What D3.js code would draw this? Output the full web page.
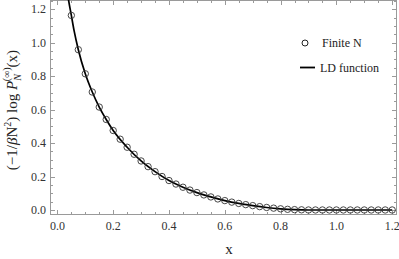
<!DOCTYPE html>
<html><head><meta charset="utf-8">
<script src="https://cdn.jsdelivr.net/npm/d3@7"></script>
<style>body{margin:0;background:#fff}svg{display:block}</style>
</head><body><svg id="c" width="399" height="259" font-family="'Liberation Serif','DejaVu Serif',serif"></svg>
<script>
// Finite N data points
const pointX = [0.05,0.075,0.1,0.125,0.15,0.175,0.2,0.225,0.25,0.275,0.3,0.325,0.35,0.375,0.4,0.425,0.45,0.475,0.5,0.525,0.55,0.575,0.6,0.625,0.65,0.675,0.7,0.725,0.75,0.775,0.8,0.825,0.85,0.875,0.9,0.925,0.95,0.975,1.0,1.025,1.05,1.075,1.1,1.125,1.15,1.175,1.2];
const pointY = [1.163,0.958,0.814,0.705,0.615,0.541,0.475,0.423,0.375,0.333,0.293,0.259,0.229,0.2,0.176,0.155,0.136,0.119,0.104,0.09,0.078,0.066,0.056,0.047,0.039,0.032,0.026,0.02,0.015,0.011,0.007,0.004,0.002,0.001,0,0,0,0,0,0,0,0,0,0,0,0,0];
// LD function curve samples
const lineX = [0.033,0.04,0.05,0.06,0.075,0.1,0.125,0.15,0.175,0.2,0.25,0.3,0.35,0.4,0.45,0.5,0.55,0.6,0.65,0.7,0.75,0.8,0.85,0.9,0.95,1.0,1.1,1.2];
const lineY = [1.33,1.255,1.163,1.07,0.958,0.814,0.705,0.615,0.541,0.475,0.375,0.293,0.229,0.176,0.136,0.104,0.078,0.056,0.039,0.026,0.015,0.007,0.002,0,0,0,0,0];
const xTicks = [0,0.2,0.4,0.6,0.8,1.0,1.2];
const yTicks = [0,0.2,0.4,0.6,0.8,1.0,1.2];
const legendLabels = ["Finite N","LD function"];

const svg = d3.select("#c");
const L=50,R=397,T=0,B=215;
const x = d3.scaleLinear().domain([-0.0265,1.2172]).range([L,R]);
const y = d3.scaleLinear().domain([-0.03,1.255]).range([B,T]);
const frameCol="#9a9a9a";

svg.append("defs").append("clipPath").attr("id","clip").append("rect").attr("x",L).attr("y",T).attr("width",R-L).attr("height",B-T);

svg.append("rect").attr("x",L+0.5).attr("y",T+0.5).attr("width",R-L-1).attr("height",B-T-1).attr("fill","none").attr("stroke",frameCol).attr("stroke-width",1);

const minorX = d3.range(0,1.2001,0.05), minorY = d3.range(0,1.2501,0.05);
const isMajor = v => Math.abs(v*5-Math.round(v*5))<1e-6;
const tg = svg.append("g").attr("stroke",frameCol).attr("stroke-width",1);
minorX.forEach(v=>{const len=isMajor(v)?5:3; const px=Math.round(x(v))+0.5;
  tg.append("line").attr("x1",px).attr("x2",px).attr("y1",B).attr("y2",B-len);
  tg.append("line").attr("x1",px).attr("x2",px).attr("y1",T).attr("y2",T+len);});
minorY.forEach(v=>{const len=isMajor(v)?5:3; const py=Math.round(y(v))+0.5;
  tg.append("line").attr("y1",py).attr("y2",py).attr("x1",L).attr("x2",L+len);
  tg.append("line").attr("y1",py).attr("y2",py).attr("x1",R).attr("x2",R-len);});

const tickCol="#333";
svg.append("g").selectAll("text").data(xTicks).join("text")
  .attr("x",d=>x(d)).attr("y",230).attr("text-anchor","middle").attr("font-size",12).attr("fill",tickCol).text(d=>d.toFixed(1));
svg.append("g").selectAll("text").data(yTicks).join("text")
  .attr("x",46).attr("y",d=>y(d)+4).attr("text-anchor","end").attr("font-size",12).attr("fill",tickCol).text(d=>d.toFixed(1));

svg.append("text").attr("x",229).attr("y",254).attr("text-anchor","middle").attr("font-size",15).attr("fill","#222").text("x");
const yl = svg.append("text").attr("transform","translate(17,110) rotate(-90)").attr("text-anchor","middle").attr("font-size",15).attr("fill","#222");
yl.append("tspan").text("(−1/");
yl.append("tspan").attr("font-style","italic").text("β");
yl.append("tspan").text("N");
yl.append("tspan").attr("font-size",10).attr("dy",-6).text("2");
yl.append("tspan").attr("dy",6).text(")  log ");
yl.append("tspan").attr("font-style","italic").text("P");
yl.append("tspan").attr("font-style","italic").attr("font-size",10).attr("dy",4).text("N");
yl.append("tspan").attr("font-size",10).attr("dx",-7).attr("dy",-11).text("(∞)");
yl.append("tspan").attr("dy",7).text("(x)");

const g = svg.append("g").attr("clip-path","url(#clip)");
g.append("path").datum(lineX.map((v,i)=>[v,lineY[i]]))
  .attr("d",d3.line().x(d=>x(d[0])).y(d=>y(d[1])).curve(d3.curveMonotoneX))
  .attr("fill","none").attr("stroke","#000").attr("stroke-width",1.7);
g.selectAll("circle").data(pointX.map((v,i)=>[v,pointY[i]])).join("circle")
  .attr("cx",d=>x(d[0])).attr("cy",d=>y(d[1])).attr("r",3.2)
  .attr("fill","none").attr("stroke","#333").attr("stroke-width",0.9);

svg.append("circle").attr("cx",305).attr("cy",43).attr("r",3).attr("fill","none").attr("stroke","#222").attr("stroke-width",1);
svg.append("text").attr("x",322).attr("y",47).attr("font-size",12).attr("fill","#222").text(legendLabels[0]);
svg.append("line").attr("x1",300).attr("x2",315).attr("y1",67.5).attr("y2",67.5).attr("stroke","#000").attr("stroke-width",1.8);
svg.append("text").attr("x",320).attr("y",72).attr("font-size",12).attr("fill","#222").text(legendLabels[1]);
</script></body></html>
